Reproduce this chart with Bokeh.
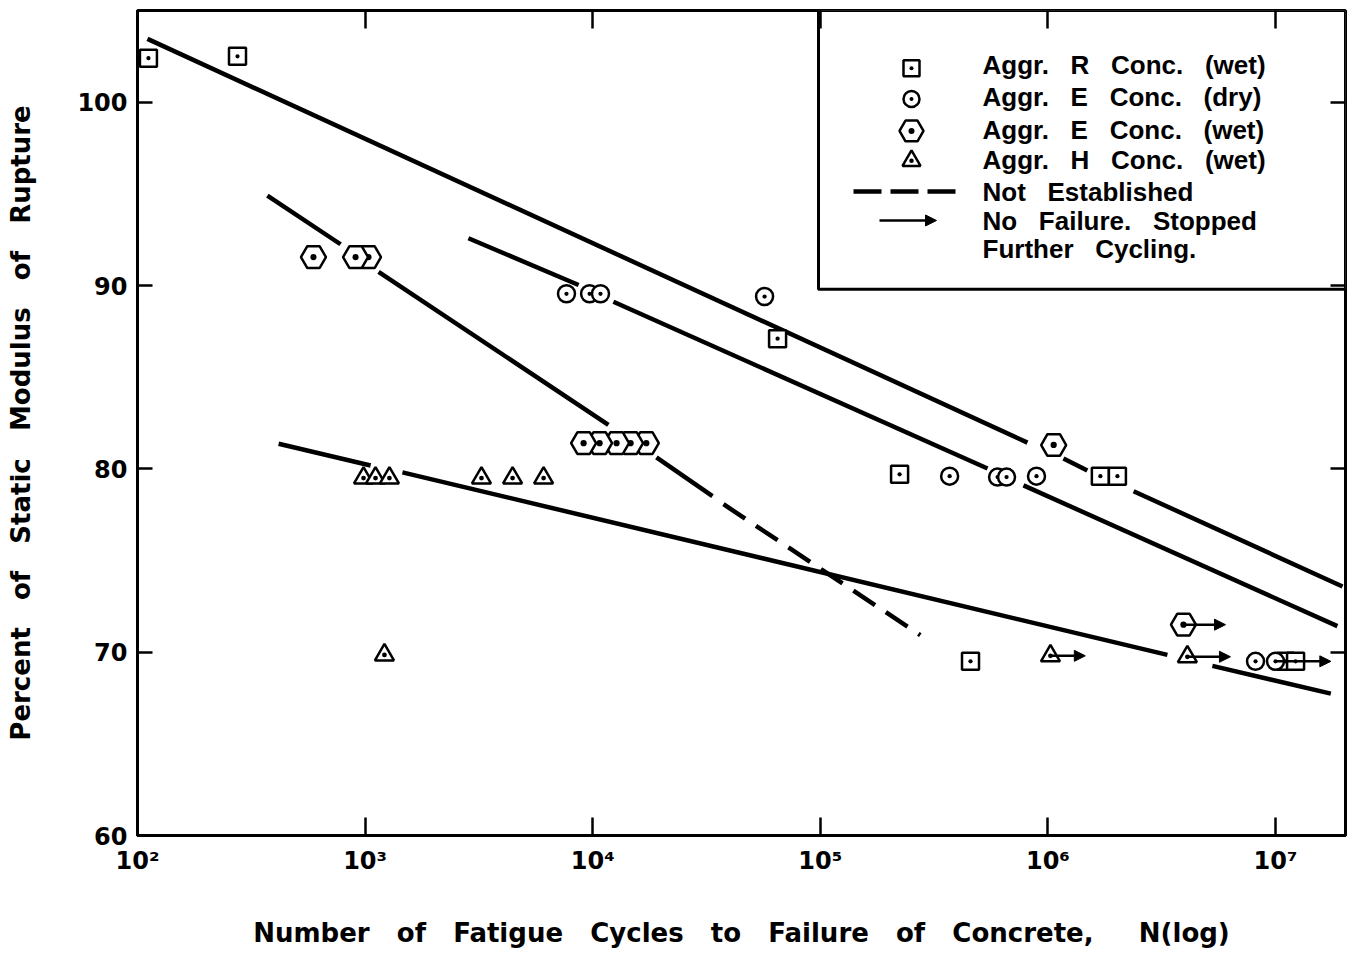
import math
from bokeh.plotting import figure
from bokeh.models import (Range1d, LogAxis, LinearAxis, FixedTicker, Arrow, NormalHead,
                          ColumnDataSource, CustomJSTickFormatter)
from bokeh.core.properties import value
from bokeh.embed import file_html
from bokeh.resources import INLINE

# ---------------- data ----------------
x_ticks = [1e2, 1e3, 1e4, 1e5, 1e6, 1e7]
x_tick_labels = ["10²", "10³", "10⁴", "10⁵", "10⁶", "10⁷"]
y_ticks = [60, 70, 80, 90, 100]

# Aggr. R Conc. (wet) - squares
sq_N = [111.7, 275, 64900, 223000, 457000, 1.70e6, 2.02e6, 1.107e7, 1.225e7]
sq_S = [102.4, 102.5, 87.1, 79.7, 69.5, 79.6, 79.6, 69.5, 69.5]
# Aggr. E Conc. (dry) - circles
circ_N = [7670, 9690, 10820, 56900, 370000, 601000, 658000, 891000, 8.17e6, 1.0e7]
circ_S = [89.55, 89.55, 89.55, 89.4, 79.6, 79.55, 79.55, 79.6, 69.5, 69.5]
# Aggr. E Conc. (wet) - hexagons
hex_N = [3.94e6, 1.06e6, 17200, 14670, 12730, 10720, 9120, 1035, 908, 593]
hex_S = [71.5, 81.3, 81.4, 81.4, 81.4, 81.4, 81.4, 91.55, 91.55, 91.55]
# Aggr. H Conc. (wet) - triangles
tri_N = [984, 1111, 1279, 3245, 4446, 6084, 1216, 1.026e6, 4.10e6]
tri_S = [79.5, 79.5, 79.5, 79.5, 79.5, 79.5, 69.85, 69.8, 69.75]

# fitted S-N lines (solid pieces, interrupted where they pass markers)
fitR_N0 = [110.6, 1.17e6, 2.38e6]
fitR_S0 = [103.45, 80.56, 78.78]
fitR_N1 = [813000, 1.49e6, 1.97e7]
fitR_S1 = [81.43, 79.91, 73.58]

fitEd_N0 = [2844, 12330, 781000]
fitEd_S0 = [92.58, 89.11, 79.10]
fitEd_N1 = [8670, 543000, 1.87e7]
fitEd_S1 = [90.03, 80.02, 71.42]

fitEw_N0 = [372, 1146, 19050]
fitEw_S0 = [94.90, 90.74, 80.62]
fitEw_N1 = [780, 11720, 33600]
fitEw_S1 = [92.25, 82.40, 78.51]
# "not established" part of the Aggr. E (wet) line
fitEw_dash_N = [37550, 275000]
fitEw_dash_S = [78.07, 70.93]

fitH_N0 = [417, 1459, 5.28e6]
fitH_S0 = [81.37, 79.81, 69.25]
fitH_N1 = [1057, 3.35e6, 1.75e7]
fitH_S1 = [80.18, 69.85, 67.74]

# run-outs (no failure, cycling stopped)
run_N0 = [3.94e6, 1.026e6, 4.10e6, 1.0e7]
run_N1 = [6.03e6, 1.46e6, 6.34e6, 1.75e7]
run_S = [71.5, 69.8, 69.75, 69.5]

S = " \u00a0 "   # wide word gap as in the original typesetting
S5 = " \u00a0 \u00a0 "
legend_labels = [f"Aggr.{S}R{S}Conc.{S}(wet)", f"Aggr.{S}E{S}Conc.{S}(dry)",
                 f"Aggr.{S}E{S}Conc.{S}(wet)", f"Aggr.{S}H{S}Conc.{S}(wet)",
                 f"Not{S}Established", f"No{S}Failure.{S}Stopped", f"Further{S}Cycling."]

x_label = S.join(["Number", "of", "Fatigue", "Cycles", "to", "Failure", "of", "Concrete,"]) + S5 + "N(log)"
y_label = S.join(["Percent", "of", "Static", "Modulus", "of", "Rupture"])

# ---------------- layout ----------------
X0, X1 = 100, 2.03e7
Y0, Y1 = 60, 105
FIG_W, FIG_H = 1349, 950
FL, FR, FT, FB = 137, 1345, 10, 839      # frame edges in figure pixels
FONT = "DejaVu Sans"
LFONT = "Liberation Sans"


def sx(px):
    return 10 ** (math.log10(X0) + (px - FL) / (FR - FL) * (math.log10(X1) - math.log10(X0)))


def sy(py):
    return Y0 + (FB - py) / (FB - FT) * (Y1 - Y0)


p = figure(width=FIG_W, height=FIG_H, x_axis_type="log",
           x_range=Range1d(X0, X1), y_range=Range1d(Y0, Y1),
           output_backend="svg", toolbar_location=None,
           min_border_left=FL, min_border_right=FIG_W - FR,
           min_border_top=FT, min_border_bottom=FIG_H - FB)
p.grid.visible = False
p.outline_line_color = "black"
p.outline_line_width = 3

ax = p.xaxis[0]
ax.ticker = FixedTicker(ticks=x_ticks)
ax.formatter = CustomJSTickFormatter(args=dict(tvals=x_ticks, tlabels=x_tick_labels), code="""
const i = tvals.findIndex(t => Math.abs(Math.log10(t) - Math.log10(tick)) < 1e-6);
return i >= 0 ? tlabels[i] : "";
""")
ay = p.yaxis[0]
ay.ticker = FixedTicker(ticks=y_ticks)
for a, tin in ((ax, 18), (ay, 15)):
    a.major_tick_in = tin
    a.major_tick_out = 0
    a.minor_tick_line_color = None
    a.axis_line_width = 3
    a.major_tick_line_width = 2.5
    a.major_label_text_font = FONT
    a.major_label_text_font_style = "bold"
    a.major_label_text_font_size = "24px"
    a.major_label_text_color = "black"
    a.axis_label_text_font = FONT
    a.axis_label_text_font_style = "bold"
    a.axis_label_text_font_size = "26px"
    a.axis_label_text_color = "black"
ax.major_label_standoff = 11
ax.axis_label = x_label
ax.axis_label_standoff = 40
ay.major_label_standoff = 10
ay.axis_label = y_label
ay.axis_label_standoff = 38

top = LogAxis(ticker=FixedTicker(ticks=x_ticks[1:]), major_tick_in=18, major_tick_out=0,
              minor_tick_line_color=None, axis_line_color=None, major_tick_line_width=2.5,
              major_label_text_font_size="1px", major_label_text_color=None,
              major_label_standoff=0)
p.add_layout(top, "above")
right = LinearAxis(ticker=FixedTicker(ticks=y_ticks[1:]), major_tick_in=15, major_tick_out=0,
                   minor_tick_line_color=None, axis_line_color=None, major_tick_line_width=2.5,
                   major_label_text_font_size="1px", major_label_text_color=None,
                   major_label_standoff=0)
p.add_layout(right, "right")

LW = 4.5
# fitted lines
for n0, s0, n1, s1 in ((fitR_N0, fitR_S0, fitR_N1, fitR_S1),
                       (fitEd_N0, fitEd_S0, fitEd_N1, fitEd_S1),
                       (fitEw_N0, fitEw_S0, fitEw_N1, fitEw_S1),
                       (fitH_N0, fitH_S0, fitH_N1, fitH_S1)):
    p.segment(x0=n0, y0=s0, x1=n1, y1=s1, line_color="black", line_width=LW)
p.line(fitEw_dash_N, fitEw_dash_S, line_color="black", line_width=LW, line_dash="26 13")

mk = dict(line_color="black", line_width=2.5, fill_color="white")
p.scatter(sq_N, sq_S, marker="square_dot", size=17, **mk)
p.scatter(circ_N, circ_S, marker="circle_dot", size=17, **mk)
p.scatter(hex_N, hex_S, marker="hex_dot", size=25, **mk)
p.scatter(tri_N, tri_S, marker="triangle_dot", size=19, **mk)

head = dict(size=11, fill_color="black", line_color="black")
p.add_layout(Arrow(end=NormalHead(**head), line_width=2.5, line_color="black",
                   source=ColumnDataSource(dict(x0=run_N0, x1=run_N1, y=run_S)),
                   x_start="x0", y_start="y", x_end="x1", y_end="y"))

# legend (drawn by hand inside the upper-right corner of the frame; pixel layout)
p.quad(left=[sx(818)], right=[X1], top=[Y1], bottom=[sy(290)],
       fill_color="white", line_color="black", line_width=3)
mx = sx(911)
for m, yy, sz in (("square_dot", 68, 16), ("circle_dot", 99, 16),
                  ("hex_dot", 131, 24), ("triangle_dot", 161, 18)):
    p.scatter([mx], [sy(yy)], marker=m, size=sz, **mk)
p.line([sx(853), sx(955)], [sy(192), sy(192)], line_color="black", line_width=LW,
       line_dash="28 9")
p.add_layout(Arrow(end=NormalHead(**head), line_width=2.5, line_color="black",
                   x_start=sx(879), y_start=sy(221), x_end=sx(936), y_end=sy(221)))
text_rows = [65, 97, 130, 160, 192, 222, 250]
p.text(x=[sx(982)] * len(legend_labels), y=[sy(r) for r in text_rows], text=legend_labels,
       text_font=value(LFONT), text_font_style="bold", text_font_size="26px",
       text_align="left", text_baseline="middle", text_color="black")

open("out.html", "w").write(file_html(p, INLINE))
